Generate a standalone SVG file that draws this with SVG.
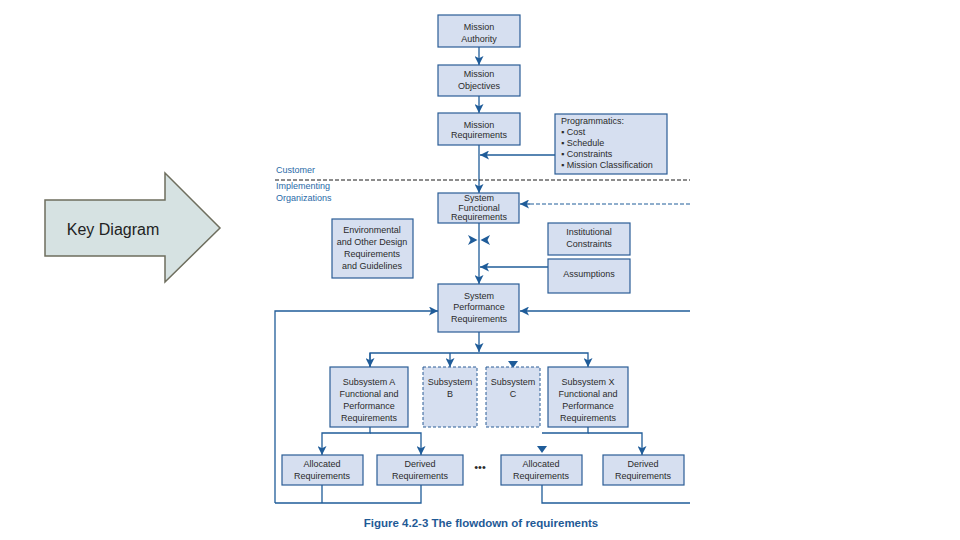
<svg xmlns="http://www.w3.org/2000/svg" width="960" height="540" viewBox="0 0 960 540">
<defs>
<marker id="ah" viewBox="0 0 10 10" refX="10" refY="5" markerWidth="9" markerHeight="9" markerUnits="userSpaceOnUse" orient="auto">
<path d="M0,0 L10,5 L0,10 L2.5,5 z" fill="#1f5c99"/>
</marker>
</defs>
<style>
.box{fill:#d6dff0;stroke:#2a5d96;stroke-width:1.2}
.dbox{fill:#d6dff0;stroke:#2a5d96;stroke-width:1;stroke-dasharray:3,2}
.t{font-family:"Liberation Sans",Arial,sans-serif;font-size:9px;fill:#2b2b2b;text-anchor:middle}
.tl{font-family:"Liberation Sans",Arial,sans-serif;font-size:9px;fill:#2b2b2b}
.ln{fill:none;stroke:#1f5c99;stroke-width:1.3}
.lbl{font-family:"Liberation Sans",Arial,sans-serif;font-size:9px;fill:#2a6aa8}
</style>
<rect width="960" height="540" fill="#ffffff"/>

<g id="key-diagram">
<path d="M45,200 L165,200 L165,173 L220,228 L165,282 L165,256 L45,256 Z" fill="#d6e2e2" stroke="#6e6e5e" stroke-width="1.5"/>
<text x="113" y="235" font-family="Liberation Sans,Arial,sans-serif" font-size="16" fill="#222" text-anchor="middle">Key Diagram</text>
</g>

<g id="connectors">
<path class="ln" d="M479,47 L479,65" marker-end="url(#ah)"/>
<path class="ln" d="M479,96 L479,113" marker-end="url(#ah)"/>
<path class="ln" d="M479,145 L479,193" marker-end="url(#ah)"/>
<path class="ln" d="M555,155 L480,155" marker-end="url(#ah)"/>
<path d="M275,180 L690,180" fill="none" stroke="#1a1a1a" stroke-width="1" stroke-dasharray="4,2"/>
<path d="M690,204 L530,204" fill="none" stroke="#1f5c99" stroke-width="1" stroke-dasharray="4,2"/>
<path class="ln" d="M530,204 L520,204" marker-end="url(#ah)"/>
<path class="ln" d="M479,223 L479,284" marker-end="url(#ah)"/>
<path d="M468,235 L477.5,240 L468,245 L470.5,240 Z" fill="#1f5c99"/>
<path d="M490,235 L480.5,240 L490,245 L487.5,240 Z" fill="#1f5c99"/>
<path class="ln" d="M548,267 L480,267" marker-end="url(#ah)"/>
<path class="ln" d="M690,311 L520,311" marker-end="url(#ah)"/>
<path class="ln" d="M275,503 L275,311 L438,311" marker-end="url(#ah)"/>
<path class="ln" d="M479,332 L479,352" marker-end="url(#ah)"/>
<path class="ln" d="M370,367 L370,353 L588,353 L588,367" marker-end="url(#ah)"/>
<path class="ln" d="M370,353 L370,367" marker-end="url(#ah)"/>
<path class="ln" d="M450,353 L450,367" marker-end="url(#ah)"/>
<path d="M508,361 L518,361 L513,368 Z" fill="#1f5c99"/>
<path class="ln" d="M370,427 L370,433 L322,433 L322,455" marker-end="url(#ah)"/>
<path class="ln" d="M370,433 L421,433 L421,455" marker-end="url(#ah)"/>
<path class="ln" d="M588,427 L588,433 L542,433" />
<path d="M537,446 L547,446 L542,453 Z" fill="#1f5c99"/>
<path class="ln" d="M588,433 L642,433 L642,455" marker-end="url(#ah)"/>
<path class="ln" d="M322,485 L322,503 M421,485 L421,503 L275,503"/>
<path class="ln" d="M542,485 L542,503 L690,503"/>
</g>

<g id="mission-authority">
<rect class="box" x="438" y="15" width="82" height="32"/>
<text class="t" x="479" y="30">Mission</text>
<text class="t" x="479" y="42">Authority</text>
</g>
<g id="mission-objectives">
<rect class="box" x="438" y="65" width="82" height="31"/>
<text class="t" x="479" y="77">Mission</text>
<text class="t" x="479" y="89">Objectives</text>
</g>
<g id="mission-requirements">
<rect class="box" x="438" y="113" width="82" height="32"/>
<text class="t" x="479" y="128">Mission</text>
<text class="t" x="479" y="138">Requirements</text>
</g>
<g id="programmatics">
<rect class="box" x="555" y="114" width="112" height="60"/>
<text class="tl" x="561" y="124">Programmatics:</text>
<text class="tl" x="561" y="135">▪ Cost</text>
<text class="tl" x="561" y="146">▪ Schedule</text>
<text class="tl" x="561" y="157">▪ Constraints</text>
<text class="tl" x="561" y="168">▪ Mission Classification</text>
</g>
<g id="org-labels">
<text class="lbl" x="276" y="173">Customer</text>
<text class="lbl" x="276" y="189">Implementing</text>
<text class="lbl" x="276" y="201">Organizations</text>
</g>
<g id="system-functional">
<rect class="box" x="438" y="193" width="81" height="30"/>
<text class="t" x="479" y="201">System</text>
<text class="t" x="479" y="211">Functional</text>
<text class="t" x="479" y="220">Requirements</text>
</g>
<g id="environmental">
<rect class="box" x="332" y="219" width="81" height="59"/>
<text class="t" x="372" y="233">Environmental</text>
<text class="t" x="372" y="245">and Other Design</text>
<text class="t" x="372" y="257">Requirements</text>
<text class="t" x="372" y="269">and Guidelines</text>
</g>
<g id="institutional">
<rect class="box" x="548" y="223" width="82" height="32"/>
<text class="t" x="589" y="235">Institutional</text>
<text class="t" x="589" y="247">Constraints</text>
</g>
<g id="assumptions">
<rect class="box" x="548" y="259" width="82" height="34"/>
<text class="t" x="589" y="277">Assumptions</text>
</g>
<g id="system-performance">
<rect class="box" x="438" y="284" width="81" height="48"/>
<text class="t" x="479" y="299">System</text>
<text class="t" x="479" y="310">Performance</text>
<text class="t" x="479" y="322">Requirements</text>
</g>
<g id="subsystem-a">
<rect class="box" x="330" y="367" width="78" height="60"/>
<text class="t" x="369" y="385">Subsystem A</text>
<text class="t" x="369" y="397">Functional and</text>
<text class="t" x="369" y="409">Performance</text>
<text class="t" x="369" y="421">Requirements</text>
</g>
<g id="subsystem-b">
<rect class="dbox" x="423" y="367" width="54" height="60"/>
<text class="t" x="450" y="385">Subsystem</text>
<text class="t" x="450" y="397">B</text>
</g>
<g id="subsystem-c">
<rect class="dbox" x="486" y="367" width="54" height="60"/>
<text class="t" x="513" y="385">Subsystem</text>
<text class="t" x="513" y="397">C</text>
</g>
<g id="subsystem-x">
<rect class="box" x="548" y="367" width="80" height="60"/>
<text class="t" x="588" y="385">Subsystem X</text>
<text class="t" x="588" y="397">Functional and</text>
<text class="t" x="588" y="409">Performance</text>
<text class="t" x="588" y="421">Requirements</text>
</g>
<g id="allocated-a">
<rect class="box" x="282" y="455" width="81" height="30"/>
<text class="t" x="322" y="467">Allocated</text>
<text class="t" x="322" y="479">Requirements</text>
</g>
<g id="derived-a">
<rect class="box" x="377" y="455" width="86" height="30"/>
<text class="t" x="420" y="467">Derived</text>
<text class="t" x="420" y="479">Requirements</text>
</g>
<g id="ellipsis">
<text x="480" y="471" font-family="Liberation Sans,Arial,sans-serif" font-size="11" fill="#2b2b2b" text-anchor="middle">•••</text>
</g>
<g id="allocated-x">
<rect class="box" x="501" y="455" width="81" height="30"/>
<text class="t" x="541" y="467">Allocated</text>
<text class="t" x="541" y="479">Requirements</text>
</g>
<g id="derived-x">
<rect class="box" x="603" y="455" width="81" height="30"/>
<text class="t" x="643" y="467">Derived</text>
<text class="t" x="643" y="479">Requirements</text>
</g>
<g id="caption">
<text x="481" y="527" font-family="Liberation Sans,Arial,sans-serif" font-size="11.5" font-weight="bold" fill="#1f5a96" text-anchor="middle">Figure 4.2-3  The flowdown of requirements</text>
</g>
</svg>
